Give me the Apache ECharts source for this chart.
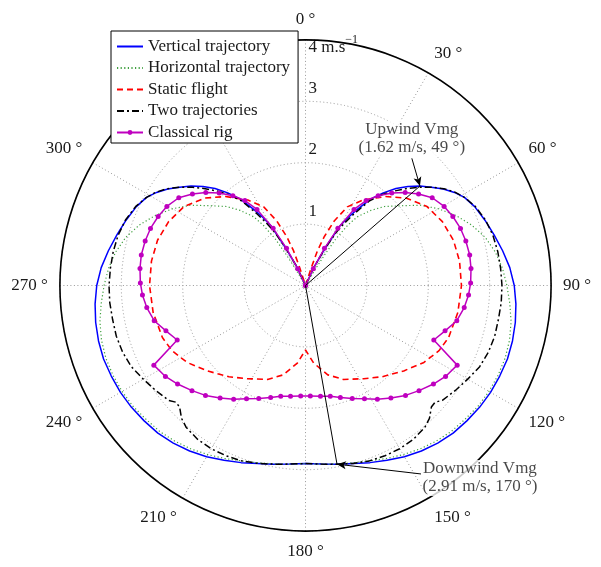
<!DOCTYPE html>
<html><head><meta charset="utf-8">
<script src="https://cdn.jsdelivr.net/npm/echarts@6/dist/echarts.min.js"></script>
<style>html,body{margin:0;padding:0;background:#fff}#c{width:601px;height:567px}</style>
</head><body><div id="c"></div>
<script>
const FONT = '"Liberation Serif","Times New Roman",Times,serif';

// tick definitions
const angleTicks = [0, 30, 60, 90, 120, 150, 180, 210, 240, 270, 300, 330];
const radiusTicks = [0, 1, 2, 3, 4];
const radiusTickLabels = ['', '1', '2', '3', '4 m.s'];

// half-polars (0..180 deg), the plot is symmetric about the wind axis
const verticalAngles = [0, 20, 25, 28, 30, 32, 34, 37, 40, 43, 46, 49, 52, 55, 58, 61, 65, 70, 75, 80, 85, 90, 95, 100, 105, 110, 115, 120, 125, 130, 135, 140, 145, 150, 155, 160, 165, 170, 175, 180];
const verticalSpeeds = [0, 0, 0.35, 0.72, 1.12, 1.3, 1.48, 1.76, 1.97, 2.16, 2.32, 2.47, 2.6, 2.74, 2.86, 2.96, 3.04, 3.11, 3.18, 3.26, 3.34, 3.40, 3.44, 3.47, 3.49, 3.50, 3.49, 3.48, 3.46, 3.43, 3.40, 3.35, 3.29, 3.22, 3.14, 3.07, 3.00, 2.955, 2.92, 2.90];

const horizontalAngles = [0, 28, 31, 32, 33, 35, 37, 41, 45, 50, 55, 60, 65, 70, 75, 80, 85, 90, 95, 100, 105, 110, 115, 120, 125, 130, 135, 140, 145, 150, 155, 160, 165, 170, 175, 180];
const horizontalSpeeds = [0, 0, 0.3, 0.6, 0.9, 1.2, 1.4, 1.62, 1.82, 2.02, 2.28, 2.5, 2.7, 2.88, 3.03, 3.14, 3.22, 3.28, 3.34, 3.40, 3.44, 3.46, 3.46, 3.45, 3.43, 3.39, 3.36, 3.31, 3.25, 3.18, 3.11, 3.04, 2.99, 2.95, 2.92, 2.90];

const staticAngles = [0, 15, 18, 19, 21, 24, 28, 34, 42, 49, 57, 65, 73, 81, 90, 100, 110, 116, 123, 131, 140, 148, 158, 166, 174, 180];
const staticSpeeds = [0, 0, 0.3, 0.6, 0.85, 1.15, 1.45, 1.68, 1.95, 2.17, 2.36, 2.46, 2.52, 2.54, 2.54, 2.52, 2.48, 2.42, 2.30, 2.12, 1.94, 1.79, 1.65, 1.50, 1.27, 1.05];

const twoAngles = [0, 20, 25, 28, 30, 32, 34, 37, 40, 43, 46, 49, 52, 55, 58, 61, 65, 70, 75, 80, 85, 90, 95, 100, 105, 110, 115, 120, 125, 130, 132, 134, 137, 140, 145, 150, 155, 160, 165, 170, 175, 180];
const twoSpeeds = [0, 0, 0.35, 0.7, 1.0, 1.2, 1.4, 1.72, 1.93, 2.1, 2.27, 2.44, 2.6, 2.75, 2.87, 2.96, 3.05, 3.12, 3.16, 3.18, 3.19, 3.20, 3.20, 3.19, 3.19, 3.17, 3.13, 3.05, 2.98, 2.91, 2.84, 2.85, 2.96, 3.02, 3.06, 3.07, 3.06, 3.04, 3.00, 2.955, 2.92, 2.90];

const classicalAngles = [0, 25, 27, 29.5, 32.5, 35.5, 39, 43, 47, 51, 55.3, 60.3, 64.9, 69.8, 74.5, 79.5, 84.1, 89.1, 93.3, 97.9, 103.1, 108, 113, 117.7, 123, 127.6, 132.8, 137.7, 142.8, 147.7, 152.5, 157.5, 162.7, 167.4, 172.3, 177.5];
const classicalSpeeds = [0, 0.3, 0.68, 1.07, 1.47, 1.70, 1.88, 2.06, 2.22, 2.37, 2.51, 2.60, 2.65, 2.69, 2.71, 2.72, 2.71, 2.69, 2.66, 2.61, 2.53, 2.39, 2.27, 2.79, 2.72, 2.63, 2.52, 2.42, 2.30, 2.19, 2.08, 1.99, 1.91, 1.85, 1.82, 1.80];

// Vmg annotations
const upwindVmg = 1.62, upwindAngle = 49;
const downwindVmg = 2.91, downwindAngle = 170;
const upwindTextAt = [2.70, 39.9];     // [speed, angle] where the arrow starts
const downwindTextAt = [3.60, 148.5];

const seriesNames = ['Vertical trajectory', 'Horizontal trajectory', 'Static flight', 'Two trajectories', 'Classical rig'];

function fullPolar(angles, speeds) {
  const out = [];
  for (let i = 0; i < angles.length; i++) out.push([speeds[i], angles[i]]);
  for (let i = angles.length - 1; i >= 0; i--) {
    if (angles[i] === 180) continue;
    out.push([speeds[i], 360 - angles[i]]);
  }
  return out;
}

const rad = Math.PI / 180;
const upR = upwindVmg / Math.cos(upwindAngle * rad);
const downR = downwindVmg / Math.abs(Math.cos(downwindAngle * rad));

const chart = echarts.init(document.getElementById('c'), null, {renderer: 'canvas'});

function lineSeries(name, angles, speeds, color, type, width, extra) {
  return Object.assign({
    name, type: 'line', coordinateSystem: 'polar',
    data: fullPolar(angles, speeds),
    symbol: 'none', smooth: false, silent: true, animation: false,
    lineStyle: {color, type, width},
    itemStyle: {color}
  }, extra || {});
}

const annoText = {fontFamily: FONT, fontSize: 17, color: '#1a1a1a', lineHeight: 18, backgroundColor: '#fff'};

chart.setOption({
  animation: false,
  backgroundColor: '#fff',
  polar: {center: [305.5, 285.5], radius: 245.6},
  angleAxis: {
    type: 'value', min: 0, max: 360, interval: 30, startAngle: 90, clockwise: true,
    axisLine: {lineStyle: {color: '#000', width: 1.6}},
    axisTick: {show: false},
    axisLabel: {
      margin: 12, align: 'center', verticalAlign: 'middle', color: '#1a1a1a', fontSize: 17, fontFamily: FONT,
      formatter: v => angleTicks.indexOf(v) >= 0 ? v + ' °' : ''
    },
    splitLine: {lineStyle: {color: '#999', type: [1, 2.5], width: 1}}
  },
  radiusAxis: {
    type: 'value', min: 0, max: 4, interval: 1,
    axisLine: {show: false}, axisTick: {show: false},
    splitLine: {lineStyle: {color: '#999', type: [1, 2.5], width: 1}},
    axisLabel: {
      margin: -3, align: 'left', verticalAlign: 'middle', color: '#1a1a1a', fontSize: 17, fontFamily: FONT,
      formatter: v => {
        const i = radiusTicks.indexOf(v);
        if (i <= 0) return '';
        if (v === 4) return '{u|' + radiusTickLabels[i] + '}{s|−1}';
        return '{n|' + radiusTickLabels[i] + '}';
      },
      rich: {
        n: {fontSize: 17, fontFamily: FONT, color: '#1a1a1a', padding: [0, 0, 26, 0]},
        u: {fontSize: 17, fontFamily: FONT, color: '#1a1a1a', padding: [16, 0, 0, 0]},
        s: {fontSize: 12, fontFamily: FONT, color: '#1a1a1a', padding: [0, 0, 0, 0]}
      }
    }
  },
  legend: {
    orient: 'vertical', left: 111, top: 31,
    backgroundColor: '#fff', borderColor: '#000', borderWidth: 1, borderRadius: 0,
    padding: [7, 8, 2, 5], itemWidth: 26, itemHeight: 6, itemGap: 4.5,
    textStyle: {fontFamily: FONT, fontSize: 17, color: '#1a1a1a'},
    data: seriesNames.map((n, i) => i < 4 ? {name: n, itemStyle: {opacity: 0}} : {name: n})
  },
  series: [
    lineSeries(seriesNames[0], verticalAngles, verticalSpeeds, '#0000ff', 'solid', 1.5),
    lineSeries(seriesNames[1], horizontalAngles, horizontalSpeeds, '#40a040', [1.2, 2.4], 1.2),
    lineSeries(seriesNames[2], staticAngles, staticSpeeds, '#ff0000', [6, 4], 1.6),
    lineSeries(seriesNames[3], twoAngles, twoSpeeds, '#000000', [7, 3, 2, 3], 1.5),
    lineSeries(seriesNames[4], classicalAngles, classicalSpeeds, '#bf00bf', 'solid', 1.5,
      {symbol: 'circle', symbolSize: 5, showSymbol: true, showAllSymbol: true}),
    {
      type: 'line', coordinateSystem: 'polar', silent: true, symbol: 'none', z: 4,
      data: [[0, 0], [upR, upwindAngle]],
      lineStyle: {color: '#000', width: 1},
      markLine: {
        silent: true, symbol: ['none', 'arrow'], symbolSize: [6, 9],
        lineStyle: {color: '#000', width: 1, type: 'solid'}, label: {show: false},
        data: [[{coord: upwindTextAt}, {coord: [upR, upwindAngle]}]]
      }
    },
    {
      type: 'line', coordinateSystem: 'polar', silent: true, symbol: 'none', z: 4,
      data: [[0, 0], [downR, downwindAngle]],
      lineStyle: {color: '#000', width: 1},
      markLine: {
        silent: true, symbol: ['none', 'arrow'], symbolSize: [6, 9],
        lineStyle: {color: '#000', width: 1, type: 'solid'}, label: {show: false},
        data: [[{coord: downwindTextAt}, {coord: [downR, downwindAngle]}]]
      }
    },
    {
      type: 'scatter', coordinateSystem: 'polar', silent: true, symbolSize: 1, z: 6,
      itemStyle: {color: 'rgba(0,0,0,0)'},
      data: [
        {value: upwindTextAt, label: Object.assign({show: true, position: 'top', distance: 1, align: 'center',
          formatter: 'Upwind Vmg\n(' + upwindVmg.toFixed(2) + ' m/s, ' + upwindAngle + ' °)'}, annoText)},
        {value: downwindTextAt, label: Object.assign({show: true, position: 'right', distance: 0, align: 'left', offset: [1, 4],
          formatter: '{c|Downwind Vmg}\n{c|(' + downwindVmg.toFixed(2) + ' m/s, ' + downwindAngle + ' °)}',
          rich: {c: {align: 'center', fontFamily: FONT, fontSize: 17, color: '#1a1a1a', lineHeight: 18}}}, annoText)}
      ]
    }
  ]
});
</script></body></html>
